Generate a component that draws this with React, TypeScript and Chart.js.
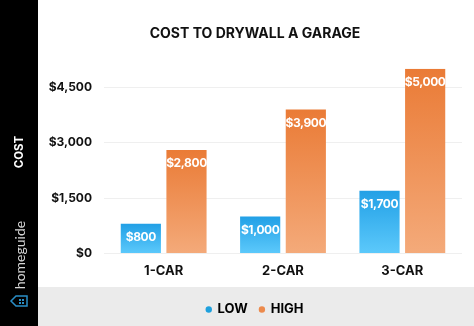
import { useEffect, useRef } from "react";
import { Chart, registerables } from "chart.js";

Chart.register(...registerables);

const categories = ["1-CAR", "2-CAR", "3-CAR"];
const lowValues = [800, 1000, 1700];
const highValues = [2800, 3900, 5000];
const yTickValues = [0, 1500, 3000, 4500];
const seriesNames = ["LOW", "HIGH"];
const chartTitle = "COST TO DRYWALL A GARAGE";
const axisTitle = "COST";
const brandName = "homeguide";

const FONT = "Inter, 'Open Sans', 'DejaVu Sans', sans-serif";

const BLUE_TOP = "#22a0e6";
const BLUE_BOTTOM = "#5cc9fb";
const ORANGE_TOP = "#ea7b36";
const ORANGE_BOTTOM = "#f4aa7a";

function gradientFor(top: string, bottom: string) {
  return (ctx: any) => {
    const chart = ctx.chart;
    const y = chart.scales && chart.scales.y;
    if (!y || ctx.type !== "data" || !chart.chartArea) return top;
    const v = ctx.raw as number;
    const yTop = y.getPixelForValue(v);
    const yBot = y.getPixelForValue(0);
    if (!isFinite(yTop) || !isFinite(yBot) || yTop === yBot) return top;
    const g = chart.ctx.createLinearGradient(0, yTop, 0, yBot);
    g.addColorStop(0, top);
    g.addColorStop(1, bottom);
    return g;
  };
}

const framePlugin = {
  id: "frame",
  beforeDraw(chart: any) {
    const { ctx, width, height } = chart;
    ctx.save();
    ctx.fillStyle = "#ffffff";
    ctx.fillRect(0, 0, width, height);
    ctx.fillStyle = "#000000";
    ctx.fillRect(0, 0, 38, height);
    ctx.fillStyle = "#ebebeb";
    ctx.fillRect(38, 287, width - 38, height - 287);

    // rotated axis title
    ctx.translate(20, 152);
    ctx.rotate(-Math.PI / 2);
    ctx.fillStyle = "#ffffff";
    ctx.font = `700 11.5px ${FONT}`;
    ctx.textAlign = "center";
    ctx.textBaseline = "middle";
    ctx.fillText(axisTitle, 0, 0);
    ctx.restore();

    // brand
    ctx.save();
    ctx.translate(20, 255);
    ctx.rotate(-Math.PI / 2);
    ctx.fillStyle = "#d6d6d6";
    ctx.font = `400 14px Lato, ${FONT}`;
    ctx.textAlign = "center";
    ctx.textBaseline = "middle";
    ctx.fillText(brandName, 0, 0);
    ctx.restore();

    // brand icon (house outline, rotated)
    ctx.save();
    ctx.strokeStyle = "#2a8ec6";
    ctx.lineWidth = 1.5;
    ctx.beginPath();
    ctx.moveTo(11, 301);
    ctx.lineTo(16, 296);
    ctx.lineTo(27, 296);
    ctx.lineTo(27, 306);
    ctx.lineTo(16, 306);
    ctx.closePath();
    ctx.stroke();
    ctx.fillStyle = "#2a8ec6";
    ctx.fillRect(19, 299, 2, 2);
    ctx.fillRect(22, 299, 2, 2);
    ctx.fillRect(19, 302, 2, 2);
    ctx.fillRect(22, 302, 2, 2);
    ctx.restore();
  },
};

const barLabelPlugin = {
  id: "barLabels",
  afterDatasetsDraw(chart: any) {
    const { ctx } = chart;
    ctx.save();
    ctx.fillStyle = "#ffffff";
    ctx.font = `700 12px ${FONT}`;
    try {
      (ctx as any).letterSpacing = "-0.4px";
    } catch (e) {}
    ctx.textAlign = "center";
    ctx.textBaseline = "middle";
    chart.data.datasets.forEach((ds: any, di: number) => {
      const meta = chart.getDatasetMeta(di);
      meta.data.forEach((bar: any, i: number) => {
        const v = ds.data[i] as number;
        ctx.fillText("$" + v.toLocaleString("en-US"), bar.x, bar.y + 13.5);
      });
    });
    ctx.restore();
  },
};

export default function App() {
  const ref = useRef<HTMLCanvasElement | null>(null);

  useEffect(() => {
    if (!ref.current) return;
    const chart = new Chart(ref.current, {
      type: "bar",
      data: {
        labels: categories,
        datasets: [
          {
            label: seriesNames[0],
            data: lowValues,
            backgroundColor: gradientFor(BLUE_TOP, BLUE_BOTTOM),
            categoryPercentage: 0.765,
            barPercentage: 0.88,
          },
          {
            label: seriesNames[1],
            data: highValues,
            backgroundColor: gradientFor(ORANGE_TOP, ORANGE_BOTTOM),
            categoryPercentage: 0.765,
            barPercentage: 0.88,
          },
        ],
      },
      options: {
        animation: false,
        responsive: true,
        maintainAspectRatio: false,
        layout: { padding: { left: 48, right: 12, top: 0, bottom: 0 } },
        plugins: {
          title: {
            display: true,
            text: chartTitle,
            color: "#111111",
            font: { family: FONT, size: 14, weight: "bold" },
            padding: { top: 25, bottom: 27 },
          },
          legend: {
            display: true,
            position: "bottom",
            labels: {
              usePointStyle: true,
              pointStyle: "circle",
              boxWidth: 4.5,
              boxHeight: 4.5,
              color: "#111111",
              padding: 12,
              font: { family: FONT, size: 13, weight: "bold" },
              generateLabels: () => [
                { text: seriesNames[0], fillStyle: "#1ea0dd", strokeStyle: "#1ea0dd", lineWidth: 0, pointStyle: "circle", datasetIndex: 0, hidden: false },
                { text: seriesNames[1], fillStyle: "#ec8a4c", strokeStyle: "#ec8a4c", lineWidth: 0, pointStyle: "circle", datasetIndex: 1, hidden: false },
              ] as any,
            },
          },
          tooltip: { enabled: false },
        },
        scales: {
          x: {
            grid: { display: false, drawTicks: false },
            border: { display: false },
            afterFit: (scale: any) => {
              scale.height = 37.6;
            },
            ticks: {
              color: "#111111",
              padding: 10,
              font: { family: FONT, size: 13, weight: "bold" },
            },
          },
          y: {
            min: 0,
            max: 5000,
            border: { display: false },
            grid: { color: "#efefef", drawTicks: false },
            afterBuildTicks: (axis: any) => {
              axis.ticks = yTickValues.map((v) => ({ value: v }));
            },
            afterFit: (scale: any) => {
              scale.width = 56;
            },
            ticks: {
              color: "#111111",
              padding: 12,
              font: { family: FONT, size: 12, weight: "bold" },
              callback: (v: any) => "$" + Number(v).toLocaleString("en-US"),
            },
          },
        },
      },
      plugins: [framePlugin, barLabelPlugin],
    });
    return () => chart.destroy();
  }, []);

  return (
    <div style={{ position: "fixed", left: 0, top: 0, width: 474, height: 326 }}>
      <canvas ref={ref} />
    </div>
  );
}
